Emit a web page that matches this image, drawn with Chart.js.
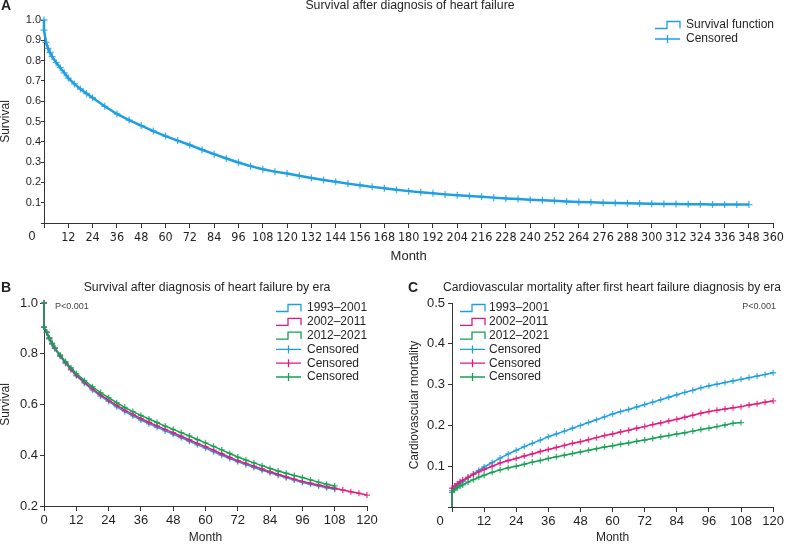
<!DOCTYPE html>
<html>
<head>
<meta charset="utf-8">
<script src="https://cdn.jsdelivr.net/npm/chart.js@4.4.1/dist/chart.umd.min.js"></script>
<style>
  body { margin: 0; background: #fff; }
  .box { position: absolute; }
</style>
</head>
<body>
<div class="box" style="left:0;top:0;width:786px;height:265px"><canvas id="chartA"></canvas></div>
<div class="box" style="left:0;top:265px;width:390px;height:279px"><canvas id="chartB"></canvas></div>
<div class="box" style="left:390px;top:265px;width:396px;height:279px"><canvas id="chartC"></canvas></div>
<script>
"use strict";

// panel A - overall survival (month, survival)
const monthsA = [0, 0, 1, 2, 3, 4, 6, 8, 10, 12, 15, 18, 21, 24,
  30, 36, 42, 48, 54, 60, 66, 72, 78, 84, 90, 96, 102, 108, 114, 120,
  126, 132, 138, 144, 150, 156, 162, 168, 174, 180, 186, 192, 198, 204,
  210, 216, 222, 228, 234, 240, 246, 252, 258, 264, 270, 276, 282, 288,
  294, 300, 306, 312, 318, 324, 330, 336, 342, 348];
const survivalA = [1.0, 0.95, 0.89, 0.86, 0.84, 0.82, 0.79, 0.765, 0.74, 0.714, 0.685, 0.66, 0.638, 0.617,
  0.575, 0.537, 0.507, 0.48, 0.453, 0.428, 0.406, 0.384, 0.361, 0.339, 0.318, 0.298, 0.28, 0.265, 0.253, 0.244,
  0.233, 0.222, 0.212, 0.203, 0.194, 0.186, 0.178, 0.171, 0.164, 0.157, 0.151, 0.146, 0.141, 0.137,
  0.133, 0.129, 0.125, 0.121, 0.118, 0.115, 0.112, 0.109, 0.106, 0.104, 0.102, 0.1, 0.098, 0.097,
  0.096, 0.095, 0.094, 0.093, 0.092, 0.092, 0.091, 0.091, 0.091, 0.091];

// panels B and C - by era
const eras = ["1993\u20132001", "2002\u20132011", "2012\u20132021"];
const monthsEra = [0, 0, 1, 2, 3, 4, 6, 8, 10, 12,
  15, 18, 21, 24, 27, 30, 33, 36, 39, 42, 45, 48, 51, 54, 57, 60,
  63, 66, 69, 72, 75, 78, 81, 84, 87, 90, 93, 96, 99, 102, 105, 108,
  111, 114, 117, 120];

const survB93 = [1.0, 0.905, 0.882, 0.858, 0.838, 0.82, 0.79, 0.762, 0.737, 0.713,
  0.684, 0.657, 0.633, 0.612, 0.591, 0.572, 0.555, 0.539, 0.524, 0.51, 0.496, 0.483, 0.469, 0.455, 0.441, 0.428,
  0.414, 0.4, 0.387, 0.374, 0.363, 0.352, 0.341, 0.331, 0.321, 0.311, 0.302, 0.293, 0.286, 0.279, 0.272, 0.266];
const survB02 = [1.0, 0.905, 0.885, 0.862, 0.84, 0.822, 0.792, 0.765, 0.74, 0.716,
  0.688, 0.662, 0.638, 0.617, 0.597, 0.578, 0.561, 0.545, 0.53, 0.516, 0.502, 0.489, 0.475, 0.461, 0.447, 0.434,
  0.42, 0.406, 0.392, 0.379, 0.368, 0.357, 0.346, 0.335, 0.325, 0.315, 0.306, 0.297, 0.29, 0.283, 0.276, 0.27,
  0.263, 0.256, 0.25, 0.243];
const survB12 = [1.0, 0.905, 0.885, 0.862, 0.842, 0.824, 0.795, 0.769, 0.745, 0.722,
  0.695, 0.67, 0.647, 0.627, 0.607, 0.589, 0.572, 0.557, 0.543, 0.529, 0.515, 0.502, 0.489, 0.476, 0.462, 0.449,
  0.435, 0.421, 0.407, 0.393, 0.381, 0.37, 0.359, 0.348, 0.338, 0.329, 0.32, 0.312, 0.303, 0.294, 0.286, 0.279];

const cvmC93 = [0, 0.04, 0.047, 0.053, 0.058, 0.062, 0.072, 0.081, 0.09, 0.098,
  0.109, 0.12, 0.13, 0.139, 0.148, 0.156, 0.164, 0.172, 0.179, 0.186, 0.193, 0.2, 0.207, 0.214, 0.221, 0.228,
  0.234, 0.239, 0.245, 0.251, 0.257, 0.263, 0.269, 0.275, 0.281, 0.286, 0.292, 0.297, 0.301, 0.305, 0.309, 0.313,
  0.317, 0.321, 0.325, 0.329];
const cvmC02 = [0, 0.046, 0.052, 0.057, 0.062, 0.066, 0.073, 0.08, 0.086, 0.092,
  0.1, 0.108, 0.114, 0.119, 0.125, 0.13, 0.136, 0.141, 0.146, 0.151, 0.156, 0.16, 0.165, 0.17, 0.175, 0.179,
  0.184, 0.188, 0.193, 0.197, 0.202, 0.206, 0.211, 0.215, 0.22, 0.225, 0.23, 0.234, 0.237, 0.24, 0.243, 0.246,
  0.25, 0.253, 0.257, 0.26];
const cvmC12 = [0, 0.036, 0.042, 0.047, 0.051, 0.054, 0.061, 0.067, 0.073, 0.078,
  0.085, 0.091, 0.096, 0.1, 0.105, 0.11, 0.114, 0.119, 0.123, 0.127, 0.131, 0.135, 0.139, 0.143, 0.147, 0.15,
  0.154, 0.157, 0.161, 0.164, 0.168, 0.172, 0.175, 0.179, 0.182, 0.186, 0.19, 0.193, 0.197, 0.201, 0.205, 0.207];

const FONT = "'Liberation Sans', Arial, sans-serif";
const INK = "#231f20";
const AXIS = "#333333";
const BLUE = "#1e9fe3";
const PINK = "#e5197d";
const GREEN = "#14a052";
const BLUE_C = "rgba(30,159,227,0.8)";
const PINK_C = "rgba(229,25,125,0.8)";
const GREEN_C = "rgba(20,160,82,0.8)";

function pts(xs, ys) {
  return ys.map((y, i) => ({ x: xs[i], y: y }));
}

function lineSet(label, xs, ys, color, width, order) {
  return {
    label: label, data: pts(xs, ys), borderColor: color, backgroundColor: color,
    borderWidth: width, pointRadius: 0, tension: 0, fill: false, clip: 6, order: order
  };
}

function censSet(xs, ys, color, r, order) {
  return {
    label: "Censored", data: pts(xs, ys), showLine: false, pointStyle: "cross",
    pointRadius: r, borderColor: color, backgroundColor: color, borderWidth: 1.3,
    clip: 6, order: order
  };
}

// titles, legend, p value and the corner "0" are drawn here
function decor(cfg) {
  return {
    id: "decor",
    afterDraw(chart) {
      const ctx = chart.ctx;
      const area = chart.chartArea;
      ctx.save();
      ctx.fillStyle = INK;
      ctx.textBaseline = "middle";
      ctx.textAlign = "left";
      ctx.font = "bold 14px " + FONT;
      ctx.fillText(cfg.letter, cfg.letterX, cfg.titleY);
      ctx.font = "12.3px " + FONT;
      ctx.textAlign = cfg.titleAlign;
      if (cfg.titleMax) {
        ctx.fillText(cfg.title, cfg.titleX, cfg.titleY, cfg.titleMax);
      } else {
        ctx.fillText(cfg.title, cfg.titleX, cfg.titleY);
      }

      if (cfg.zeroDy) {
        ctx.font = cfg.zeroFont;
        ctx.textAlign = "center";
        ctx.fillText("0", area.left - 12, area.bottom + cfg.zeroDy);
      }
      if (cfg.pText) {
        ctx.font = "9px " + FONT;
        ctx.fillStyle = "#444";
        ctx.textAlign = cfg.pAlign;
        ctx.fillText(cfg.pText, cfg.pX, cfg.pY);
        ctx.fillStyle = INK;
      }

      cfg.legend.forEach((item, i) => {
        const x = cfg.legendX;
        const y = cfg.legendY + i * cfg.legendGap;
        ctx.strokeStyle = item.color;
        ctx.lineWidth = 1.3;
        ctx.beginPath();
        if (item.kind === "step") {
          ctx.moveTo(x, y + 3.5);
          ctx.lineTo(x + 12, y + 3.5);
          ctx.lineTo(x + 12, y - 3.5);
          ctx.lineTo(x + 25, y - 3.5);
          ctx.lineTo(x + 25, y + 3.5);
        } else {
          ctx.moveTo(x, y);
          ctx.lineTo(x + 25, y);
          ctx.moveTo(x + 12.5, y - 4);
          ctx.lineTo(x + 12.5, y + 4);
        }
        ctx.stroke();
        ctx.font = "12px " + FONT;
        ctx.textAlign = "left";
        ctx.fillStyle = INK;
        ctx.fillText(item.text, x + cfg.textDx, y);
      });
      ctx.restore();
    }
  };
}

function axisX(max, fontSize, tickFont, height, hideZero, titleSize, titlePad) {
  return {
    type: "linear", min: 0, max: max,
    ticks: {
      stepSize: 12, autoSkip: false, maxRotation: 0, minRotation: 0, padding: 2,
      color: INK, font: { family: tickFont, size: fontSize },
      callback: v => (hideZero && v === 0) ? "" : v
    },
    grid: { drawOnChartArea: false, tickLength: 5, color: AXIS },
    border: { color: AXIS, width: 1 },
    title: {
      display: true, text: "Month", color: INK,
      font: { family: FONT, size: titleSize, lineHeight: 1 }, padding: { top: 0, bottom: titlePad }
    },
    afterFit: s => { s.height = height; }
  };
}

function axisY(min, max, step, fontSize, width, label, tickLen, pad, titleTop) {
  return {
    min: min, max: max,
    ticks: {
      stepSize: step, padding: pad, color: INK, font: { family: FONT, size: fontSize },
      callback: v => v === 0 ? "" : v.toFixed(1)
    },
    grid: { drawOnChartArea: false, tickLength: tickLen, color: AXIS },
    border: { color: AXIS, width: 1 },
    title: {
      display: true, text: label, color: INK,
      font: { family: FONT, size: 12, lineHeight: 1 }, padding: { top: titleTop, bottom: 0 }
    },
    afterFit: s => { s.width = width; }
  };
}

const base = {
  responsive: true, maintainAspectRatio: false, animation: false,
  plugins: { legend: { display: false }, tooltip: { enabled: false } }
};

// ---- A ----
new Chart(document.getElementById("chartA"), {
  type: "line",
  data: {
    datasets: [
      censSet(monthsA, survivalA, BLUE_C, 3.5, 1),
      lineSet("Survival function", monthsA, survivalA, BLUE, 2.5, 2)
    ]
  },
  options: Object.assign({}, base, {
    layout: { padding: { top: 20, right: 10, bottom: 0, left: 0 } },
    scales: {
      x: axisX(360, 12.5, "'Liberation Sans Narrow', 'DejaVu Sans Condensed', " + FONT, 42, true, 13, 2),
      y: axisY(0, 1.0, 0.1, 11, 44, "Survival", 3, 0, 0)
    }
  }),
  plugins: [decor({
    letter: "A", letterX: 1, title: "Survival after diagnosis of heart failure",
    titleAlign: "center", titleX: 410, titleY: 6,
    zeroDy: 14, zeroFont: "12.5px " + FONT,
    legendX: 655, legendY: 25, legendGap: 14, textDx: 31,
    legend: [
      { kind: "step", color: BLUE, text: "Survival function" },
      { kind: "cens", color: BLUE, text: "Censored" }
    ]
  })]
});

// ---- B ----
new Chart(document.getElementById("chartB"), {
  type: "line",
  data: {
    datasets: [
      censSet(monthsEra, survB12, GREEN_C, 3, 1),
      lineSet(eras[2], monthsEra, survB12, GREEN, 1.5, 2),
      censSet(monthsEra, survB02, PINK_C, 3, 3),
      lineSet(eras[1], monthsEra, survB02, PINK, 1.5, 4),
      censSet(monthsEra, survB93, BLUE_C, 3, 5),
      lineSet(eras[0], monthsEra, survB93, BLUE, 1.5, 6)
    ]
  },
  options: Object.assign({}, base, {
    layout: { padding: { top: 38, right: 23, bottom: 0, left: 0 } },
    scales: {
      x: axisX(120, 13, FONT, 38, false, 12, 0),
      y: axisY(0.2, 1.0, 0.2, 13, 44, "Survival", 4, 2, 0)
    }
  }),
  plugins: [decor({
    letter: "B", letterX: 1, title: "Survival after diagnosis of heart failure by era",
    titleAlign: "center", titleX: 207, titleY: 23,
    pText: "P<0.001", pAlign: "left", pX: 55, pY: 42,
    legendX: 276, legendY: 43, legendGap: 13.8, textDx: 31,
    legend: [
      { kind: "step", color: BLUE, text: eras[0] },
      { kind: "step", color: PINK, text: eras[1] },
      { kind: "step", color: GREEN, text: eras[2] },
      { kind: "cens", color: BLUE, text: "Censored" },
      { kind: "cens", color: PINK, text: "Censored" },
      { kind: "cens", color: GREEN, text: "Censored" }
    ]
  })]
});

// ---- C ----
new Chart(document.getElementById("chartC"), {
  type: "line",
  data: {
    datasets: [
      censSet(monthsEra.slice(1), cvmC12.slice(1), GREEN_C, 3, 1),
      lineSet(eras[2], monthsEra, cvmC12, GREEN, 1.5, 2),
      censSet(monthsEra.slice(1), cvmC02.slice(1), PINK_C, 3, 3),
      lineSet(eras[1], monthsEra, cvmC02, PINK, 1.5, 4),
      censSet(monthsEra.slice(1), cvmC93.slice(1), BLUE_C, 3, 5),
      lineSet(eras[0], monthsEra, cvmC93, BLUE, 1.5, 6)
    ]
  },
  options: Object.assign({}, base, {
    layout: { padding: { top: 38, right: 10, bottom: 0, left: 0 } },
    scales: {
      x: axisX(120, 13, FONT, 37, true, 12, 0),
      y: axisY(0, 0.5, 0.1, 13, 62, "Cardiovascular mortality", 4, 3, 19)
    }
  }),
  plugins: [decor({
    letter: "C", letterX: 18, title: "Cardiovascular mortality after first heart failure diagnosis by era",
    titleAlign: "left", titleX: 53, titleY: 23, titleMax: 338,
    zeroDy: 14, zeroFont: "13px " + FONT,
    pText: "P<0.001", pAlign: "right", pX: 386, pY: 42,
    legendX: 70, legendY: 43, legendGap: 13.8, textDx: 29,
    legend: [
      { kind: "step", color: BLUE, text: eras[0] },
      { kind: "step", color: PINK, text: eras[1] },
      { kind: "step", color: GREEN, text: eras[2] },
      { kind: "cens", color: BLUE, text: "Censored" },
      { kind: "cens", color: PINK, text: "Censored" },
      { kind: "cens", color: GREEN, text: "Censored" }
    ]
  })]
});
</script>
</body>
</html>
